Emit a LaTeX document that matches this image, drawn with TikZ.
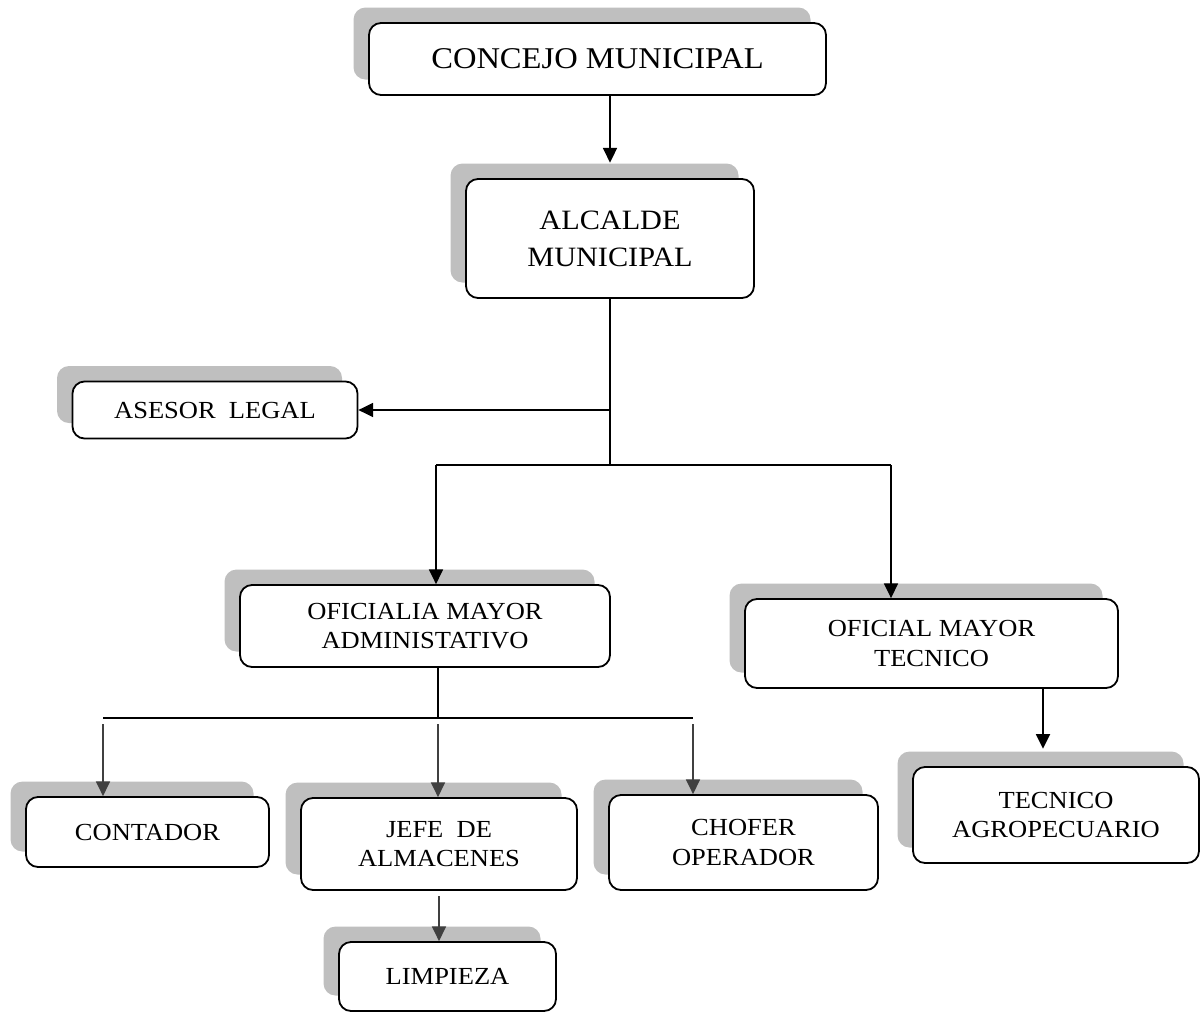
\documentclass[tikz,border=0pt]{standalone}
\usepackage{fontspec}
\setmainfont{Liberation Serif}[FakeStretch=1.08]
\usetikzlibrary{arrows.meta, positioning, shadows}
\tikzset{cargo/.style={draw, fill=white, rounded corners=9pt, line width=1.35pt,
    align=center, inner sep=0pt, font=\fontsize{18.4}{22.2}\selectfont,
    general shadow={fill=black!25, shadow xshift=-11.6pt, shadow yshift=11.6pt}},
    linea/.style={line width=1.3pt},
    flecha/.style={linea, -{Triangle[length=11pt, width=10.5pt]}},
    flechagris/.style={flecha, color=black!75}}

\begin{document}
\begin{tikzpicture}[x=0.75pt, y=-0.75pt]
        \useasboundingbox (0,0) rectangle (1202,1013);
        \node[cargo, font=\fontsize{22.6}{27}\selectfont, minimum width=342.75pt, minimum height=54pt] (concejo) at (597.5,59) {CONCEJO MUNICIPAL};
        \node[cargo, font=\fontsize{21}{27.75}\selectfont, minimum width=216pt, minimum height=89.25pt] (alcalde) at (610,238.5) {ALCALDE\\MUNICIPAL};
        \node[cargo, minimum width=213.75pt, minimum height=42.75pt] (asesor) at (215,410) {ASESOR\ \ LEGAL};
        \node[cargo, minimum width=277.5pt, minimum height=61.5pt] (oficialia) at (425,626) {OFICIALIA MAYOR\\ADMINISTATIVO};
        \node[cargo, minimum width=279.75pt, minimum height=66.75pt] (oficial) at (931.5,643.5) {OFICIAL MAYOR\\TECNICO};
        \node[cargo, minimum width=182.25pt, minimum height=52.5pt] (contador) at (147.5,832) {CONTADOR};
        \node[cargo, minimum width=207pt, minimum height=69pt] (jefe) at (439,844) {JEFE\ \ DE\\ALMACENES};
        \node[cargo, minimum width=201.75pt, minimum height=71.25pt] (chofer) at (743.5,842.5) {CHOFER\\OPERADOR};
        \node[cargo, minimum width=214.5pt, minimum height=72pt] (tecnico) at (1056,815) {TECNICO\\AGROPECUARIO};
        \node[cargo, minimum width=162.75pt, minimum height=51.75pt] (limpieza) at (447.5,976.5) {LIMPIEZA};

        \coordinate (split) at (610,465);
        \coordinate (ramaA) at (436,465);
        \coordinate (ramaB) at (891,465);
        \coordinate (cruce) at (438,718);
        \coordinate (izq) at (103,718);
        \coordinate (der) at (693,718);
        \coordinate (bajada) at (1043,688);

        \draw[flecha] (concejo.south -| alcalde) -- ([yshift=11.6pt]alcalde.north);
        \draw[linea] (alcalde.south) -- (split);
        \draw[flecha] (alcalde.south |- asesor.east) -- (asesor.east);
        \draw[linea] (ramaA) -- (ramaB);
        \draw[flecha] (ramaA) -- (ramaA |- oficialia.north);
        \draw[flecha] (ramaB) -- (ramaB |- oficial.north);
        \draw[linea] (cruce |- oficialia.south) -- (cruce);
        \draw[linea] (izq) -- (der);
        \draw[flechagris] ([yshift=-4.5pt]izq) -- (izq |- contador.north);
        \draw[flechagris] ([yshift=-4.5pt]cruce) -- (cruce |- jefe.north);
        \draw[flechagris] ([yshift=-4.5pt]der) -- (der |- chofer.north);
        \draw[flechagris] ([yshift=-4pt]jefe.south) -- (jefe.south |- limpieza.north);
        \draw[flecha, shorten >=13pt] (bajada |- oficial.south) -- (bajada |- tecnico.north);
    \end{tikzpicture}
\end{document}
